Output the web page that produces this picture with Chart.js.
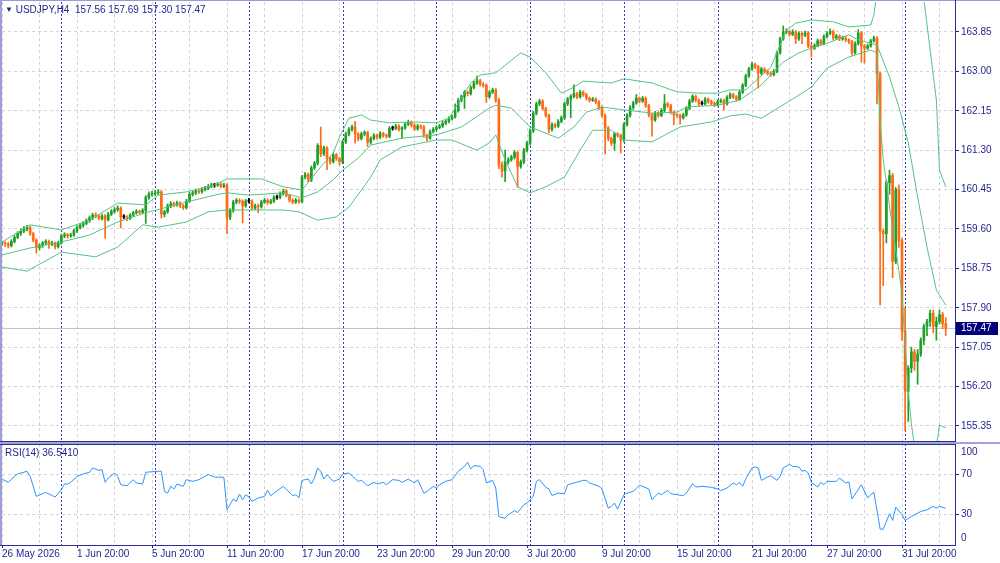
<!DOCTYPE html>
<html>
<head>
<meta charset="utf-8">
<script src="https://cdn.jsdelivr.net/npm/chart.js@4.4.1/dist/chart.umd.min.js"></script>
<style>
html,body{margin:0;padding:0;background:#fff;}
#wrap{position:relative;width:1000px;height:563px;overflow:hidden;background:#fff;font-family:'Liberation Sans',Arial,sans-serif;}
canvas{position:absolute;left:0;}
#cMain{top:0;}
#cRsi{top:441px;}
.ln{position:absolute;z-index:5;}
.txt{position:absolute;z-index:6;font-size:10px;line-height:12px;color:#1f1f8f;white-space:pre;}
</style>
</head>
<body>
<div id="wrap">
  <canvas id="cMain" width="1000" height="444"></canvas>
  <canvas id="cRsi" width="1000" height="122"></canvas>
  <div class="ln" style="left:0;top:0;width:1000px;height:1px;background:#9a9ad6;"></div>
  <div class="ln" style="left:0;top:0;width:2px;height:546px;background:#9d9dd8;"></div>
  <div class="ln" style="left:955px;top:0;width:1px;height:546px;background:#2d2d96;"></div>
  <div class="ln" style="left:0;top:441px;width:956px;height:1px;background:#2d2d96;"></div>
  <div class="ln" style="left:0;top:442px;width:1000px;height:2px;background:#a3a3dc;"></div>
  <div class="ln" style="left:0;top:444px;width:956px;height:1px;background:#2d2d96;"></div>
  <div class="ln" style="left:0;top:545px;width:956px;height:1px;background:#2d2d96;"></div>
  <div class="txt" id="hdr" style="left:5px;top:4px;"></div>
  <div class="txt" id="rsiT" style="left:5px;top:447px;"></div>
</div>
<script>
// ---------------- DATA ----------------
const symbol = 'USDJPY,H4';
const opens = [
159.29,159.30,159.28,159.24,159.33,159.42,159.50,159.55,159.60,159.63,
159.50,159.36,159.20,159.24,159.30,159.33,159.27,159.30,159.22,159.30,
159.45,159.48,159.45,159.47,159.56,159.63,159.68,159.72,159.78,159.84,
159.90,159.88,159.83,159.88,159.80,159.92,159.98,160.02,160.05,159.86,
159.86,159.83,159.90,159.95,159.98,159.96,160.00,160.28,160.35,160.36,
160.38,160.40,159.92,159.97,160.10,160.15,160.12,160.16,160.10,160.06,
160.20,160.35,160.38,160.42,160.40,160.45,160.48,160.52,160.55,160.55,
160.57,160.52,160.55,159.85,160.00,160.18,160.22,160.20,160.10,160.20,
160.20,160.05,160.10,160.08,160.18,160.22,160.17,160.20,160.28,160.28,
160.36,160.42,160.32,160.22,160.18,160.22,160.19,160.72,160.78,160.66,
160.92,161.02,161.40,161.22,161.35,161.12,161.05,161.20,161.12,161.05,
161.48,161.65,161.75,161.80,161.65,161.55,161.65,161.68,161.47,161.55,
161.62,161.58,161.66,161.62,161.60,161.77,161.77,161.82,161.75,161.78,
161.86,161.90,161.84,161.76,161.82,161.80,161.62,161.56,161.70,161.75,
161.79,161.82,161.88,161.92,161.98,162.02,162.15,162.38,162.45,162.55,
162.52,162.65,162.75,162.80,162.72,162.70,162.45,162.55,162.60,162.38,
160.98,160.85,161.05,161.10,161.15,161.25,160.95,161.05,161.30,161.45,
161.72,162.10,162.30,162.36,162.20,162.05,161.75,161.85,161.82,161.92,
162.00,162.30,162.40,162.46,162.52,162.45,162.55,162.50,162.42,162.38,
162.40,162.34,162.22,162.05,161.78,161.55,161.45,161.65,161.62,161.52,
161.85,162.05,162.22,162.32,162.42,162.36,162.42,162.26,162.06,161.95,
162.10,162.05,162.16,162.30,162.26,162.12,162.06,162.05,162.00,162.06,
162.20,162.36,162.46,162.38,162.30,162.30,162.40,162.35,162.31,162.28,
162.35,162.37,162.30,162.44,162.50,162.45,162.40,162.55,162.70,162.90,
163.05,163.15,163.10,162.96,163.05,163.00,162.96,162.93,163.00,163.40,
163.70,163.85,163.86,163.80,163.85,163.70,163.82,163.78,163.83,163.55,
163.50,163.56,163.66,163.60,163.75,163.82,163.86,163.72,163.76,163.70,
163.72,163.68,163.64,163.40,163.60,163.83,163.55,163.50,163.55,163.66,
163.72,162.95,159.55,159.50,160.60,160.75,158.90,160.45,159.35,157.40,
156.10,156.60,156.95,156.75,156.90,157.20,157.50,157.60,157.78,157.50,157.60,157.75,157.56
];
const highs = [
159.34,159.33,159.31,159.37,159.46,159.54,159.60,159.65,159.68,159.66,
159.53,159.39,159.28,159.33,159.37,159.36,159.34,159.32,159.34,159.49,
159.52,159.50,159.51,159.60,159.67,159.72,159.76,159.82,159.88,159.94,
159.95,159.91,159.92,159.91,159.96,160.02,160.06,160.10,160.08,159.91,
159.89,159.93,159.98,160.02,160.01,160.04,160.32,160.40,160.41,160.43,
160.45,160.43,160.00,160.14,160.19,160.18,160.20,160.19,160.13,160.24,
160.39,160.42,160.46,160.45,160.49,160.52,160.56,160.59,160.58,160.60,
160.60,160.59,160.58,160.04,160.22,160.26,160.25,160.23,160.24,160.26,
160.23,160.14,160.14,160.22,160.26,160.25,160.24,160.32,160.33,160.40,
160.46,160.45,160.35,160.25,160.26,160.25,160.76,160.82,160.81,160.96,
161.06,161.44,161.80,161.39,161.38,161.16,161.24,161.23,161.15,161.52,
161.69,161.79,161.84,161.92,161.68,161.69,161.72,161.71,161.59,161.66,
161.65,161.70,161.69,161.65,161.81,161.82,161.86,161.85,161.81,161.90,
161.95,161.93,161.87,161.86,161.85,161.83,161.65,161.74,161.79,161.83,
161.86,161.92,161.96,162.02,162.06,162.30,162.42,162.49,162.59,162.58,
162.69,162.79,162.90,162.83,162.76,162.73,162.59,162.64,162.63,162.42,
161.05,161.30,161.14,161.19,161.29,161.28,161.09,161.34,161.49,161.76,
162.14,162.34,162.40,162.39,162.23,162.08,161.89,161.88,161.96,162.04,
162.34,162.44,162.50,162.71,162.55,162.59,162.58,162.53,162.45,162.44,
162.43,162.37,162.25,162.08,161.81,161.58,161.69,161.68,161.65,161.89,
162.09,162.26,162.36,162.50,162.45,162.46,162.45,162.29,162.09,162.14,
162.13,162.20,162.50,162.33,162.29,162.15,162.09,162.08,162.10,162.24,
162.40,162.50,162.49,162.41,162.36,162.44,162.43,162.38,162.34,162.39,
162.41,162.40,162.48,162.54,162.53,162.48,162.59,162.74,162.94,163.09,
163.20,163.18,163.13,163.09,163.08,163.03,162.99,163.04,163.44,163.74,
163.98,163.92,163.89,163.90,163.88,163.86,163.85,163.87,163.86,163.58,
163.60,163.70,163.69,163.79,163.86,163.92,163.89,163.80,163.79,163.76,
163.75,163.71,163.67,163.64,163.90,163.86,163.58,163.59,163.69,163.76,
163.75,162.98,159.60,160.65,160.87,160.80,160.50,160.55,159.40,157.90,
156.65,157.05,157.00,157.00,157.25,157.55,157.65,157.85,157.85,157.70,157.85,157.80,157.69
];
const lows = [
159.24,159.22,159.19,159.21,159.30,159.39,159.46,159.52,159.56,159.46,
159.32,159.08,159.15,159.20,159.26,159.18,159.24,159.17,159.19,159.27,
159.41,159.40,159.42,159.44,159.52,159.60,159.64,159.69,159.74,159.80,
159.84,159.80,159.79,159.40,159.77,159.89,159.94,159.98,159.62,159.82,
159.78,159.80,159.87,159.92,159.93,159.93,159.72,160.24,160.31,160.32,
160.34,159.84,159.86,159.94,160.06,160.08,160.09,160.06,160.02,160.03,
160.17,160.31,160.34,160.36,160.37,160.42,160.45,160.49,160.50,160.52,
160.49,160.49,159.50,159.80,159.96,160.14,160.15,159.73,160.07,160.16,
160.01,160.02,159.95,160.05,160.15,160.13,160.14,160.17,160.24,160.25,
160.33,160.29,160.18,160.14,160.15,160.15,160.16,160.68,160.61,160.62,
160.88,160.98,161.16,161.18,160.88,161.00,161.02,161.08,160.98,161.01,
161.44,161.61,161.71,161.45,161.50,161.52,161.61,161.38,161.43,161.52,
161.54,161.55,161.58,161.56,161.57,161.73,161.74,161.71,161.55,161.75,
161.83,161.80,161.72,161.73,161.76,161.58,161.50,161.53,161.67,161.72,
161.76,161.79,161.85,161.89,161.95,161.99,162.12,162.34,162.20,162.47,
162.49,162.62,162.72,162.68,162.66,162.33,162.42,162.52,162.33,160.90,
160.72,160.62,161.00,161.06,161.11,160.50,160.91,161.01,161.26,161.41,
161.68,162.06,162.26,162.16,162.01,161.68,161.71,161.78,161.79,161.89,
161.96,162.26,162.00,162.43,162.41,162.42,162.46,162.38,162.34,162.35,
162.30,162.18,162.01,161.22,161.50,161.40,161.30,161.58,161.24,161.48,
161.82,162.01,162.18,162.29,162.32,162.33,162.22,162.02,161.60,161.92,
162.01,162.02,162.13,162.22,162.08,161.85,162.01,161.86,161.97,162.03,
162.17,162.33,162.34,162.26,162.27,162.27,162.31,162.27,162.24,162.25,
162.32,162.17,162.27,162.41,162.41,162.36,162.37,162.52,162.67,162.87,
163.02,163.06,162.64,162.93,162.96,162.92,162.89,162.90,162.97,163.37,
163.67,163.81,163.76,163.77,163.60,163.67,163.60,163.75,163.51,163.31,
163.47,163.53,163.56,163.57,163.72,163.79,163.68,163.69,163.66,163.67,
163.64,163.60,163.35,163.37,163.57,163.20,163.18,163.47,163.52,163.63,
162.30,157.96,158.38,159.30,160.35,158.55,158.85,159.20,157.20,155.25,
155.45,156.50,156.55,156.25,156.85,157.10,157.30,157.50,157.36,157.20,157.55,157.45,157.30
];
const closes = [
159.30,159.28,159.24,159.33,159.42,159.50,159.55,159.60,159.63,159.50,
159.36,159.20,159.24,159.30,159.33,159.27,159.30,159.22,159.30,159.45,
159.48,159.45,159.47,159.56,159.63,159.68,159.72,159.78,159.84,159.90,
159.88,159.83,159.88,159.80,159.92,159.98,160.02,160.05,159.86,159.86,
159.83,159.90,159.95,159.98,159.96,160.00,160.28,160.35,160.36,160.38,
160.40,159.92,159.97,160.10,160.15,160.12,160.16,160.10,160.06,160.20,
160.35,160.38,160.42,160.40,160.45,160.48,160.52,160.55,160.55,160.57,
160.52,160.55,159.85,160.00,160.18,160.22,160.20,160.10,160.20,160.20,
160.05,160.10,160.08,160.18,160.22,160.17,160.20,160.28,160.28,160.36,
160.42,160.32,160.22,160.18,160.22,160.19,160.72,160.78,160.66,160.92,
161.02,161.40,161.22,161.35,161.12,161.05,161.20,161.12,161.05,161.48,
161.65,161.75,161.80,161.65,161.55,161.65,161.68,161.47,161.55,161.62,
161.58,161.66,161.62,161.60,161.77,161.77,161.82,161.75,161.78,161.86,
161.90,161.84,161.76,161.82,161.80,161.62,161.56,161.70,161.75,161.79,
161.82,161.88,161.92,161.98,162.02,162.15,162.38,162.45,162.55,162.52,
162.65,162.75,162.80,162.72,162.70,162.45,162.55,162.60,162.38,160.98,
160.85,161.05,161.10,161.15,161.25,160.95,161.05,161.30,161.45,161.72,
162.10,162.30,162.36,162.20,162.05,161.75,161.85,161.82,161.92,162.00,
162.30,162.40,162.46,162.52,162.45,162.55,162.50,162.42,162.38,162.40,
162.34,162.22,162.05,161.78,161.55,161.45,161.65,161.62,161.52,161.85,
162.05,162.22,162.32,162.42,162.36,162.42,162.26,162.06,161.95,162.10,
162.05,162.16,162.30,162.26,162.12,162.06,162.05,162.00,162.06,162.20,
162.36,162.46,162.38,162.30,162.30,162.40,162.35,162.31,162.28,162.35,
162.37,162.30,162.44,162.50,162.45,162.40,162.55,162.70,162.90,163.05,
163.15,163.10,162.96,163.05,163.00,162.96,162.93,163.00,163.40,163.70,
163.85,163.86,163.80,163.85,163.70,163.82,163.78,163.83,163.55,163.50,
163.56,163.66,163.60,163.75,163.82,163.86,163.72,163.76,163.70,163.72,
163.68,163.64,163.40,163.60,163.83,163.55,163.50,163.55,163.66,163.72,
162.95,159.55,159.50,160.60,160.75,158.90,160.45,159.35,157.40,156.10,
156.60,156.95,156.75,156.90,157.20,157.50,157.60,157.78,157.50,157.60,157.75,157.56,157.47
];
// Bollinger Bands: [bar index, price]
const upperBand = [[0,159.32],[9,159.69],[19,159.58],[28,159.79],[37,160.16],[46,160.12],[50,160.33],[59,160.40],[68,160.55],[72,160.68],[83,160.68],[90,160.51],[96,160.44],[102,160.94],[106,161.24],[108,161.58],[111,161.99],[115,162.06],[118,161.95],[124,161.89],[131,161.91],[139,161.89],[143,161.99],[150,162.75],[153,162.92],[158,162.97],[166,163.40],[169,163.31],[174,162.97],[179,162.53],[183,162.66],[186,162.79],[190,162.77],[195,162.75],[199,162.84],[208,162.75],[216,162.56],[223,162.53],[229,162.53],[233,162.60],[238,162.60],[246,163.09],[251,163.89],[254,164.04],[259,164.11],[266,164.07],[271,163.96],[278,164.00],[279,164.22],[281,165.20],[285,165.70],[290,165.60],[293,165.10],[295,164.55],[299,162.38],[300,160.87],[302,160.51]];
const middleBand = [[0,159.04],[9,159.19],[19,159.32],[28,159.47],[37,159.75],[46,159.95],[59,160.18],[68,160.33],[72,160.38],[79,160.33],[90,160.38],[96,160.27],[101,160.40],[106,160.66],[109,160.87],[114,161.13],[118,161.41],[128,161.56],[139,161.63],[147,161.80],[156,162.21],[158,162.27],[163,162.21],[169,161.80],[178,161.56],[183,161.80],[187,162.12],[192,162.23],[199,162.17],[208,162.10],[216,162.12],[219,162.23],[229,162.27],[236,162.38],[243,162.71],[250,163.20],[255,163.40],[259,163.50],[265,163.63],[271,163.79],[274,163.68],[280,163.57],[284,162.88],[287,162.23],[290,161.46],[293,160.29],[296,159.21],[299,158.28],[302,157.96]];
const lowerBand = [[0,158.78],[8,158.69],[19,159.10],[30,159.00],[37,159.21],[45,159.69],[50,159.64],[59,159.75],[66,159.97],[72,160.01],[79,160.01],[90,160.01],[95,159.97],[101,159.79],[107,159.86],[111,160.07],[115,160.44],[118,160.72],[121,161.09],[128,161.37],[139,161.52],[144,161.52],[152,161.30],[156,161.46],[158,161.63],[161,161.09],[165,160.51],[169,160.38],[174,160.51],[180,160.72],[185,161.30],[189,161.73],[195,161.73],[199,161.52],[208,161.48],[217,161.80],[227,161.91],[233,162.04],[238,162.08],[243,161.99],[251,162.32],[259,162.66],[264,163.07],[271,163.31],[278,163.46],[280,163.40],[281,161.90],[282,161.10],[283,160.60],[285,159.60],[287,158.70],[288,158.20],[289,157.10],[290,156.10],[291,155.40],[292,154.90],[294,154.40],[297,154.40],[299,154.90],[300,155.37],[302,155.31]];
// RSI(14): [bar index, value]
const rsiPoints = [[0,65.3],[2,62.0],[4,68.0],[5,70.3],[8,73.0],[9,68.0],[11,48.1],[13,50.8],[14,52.1],[17,47.5],[19,54.7],[20,60.4],[21,60.4],[22,62.0],[24,68.0],[26,70.3],[28,72.0],[29,76.3],[31,73.9],[32,74.6],[33,62.0],[34,66.3],[36,71.3],[37,68.0],[38,59.7],[40,58.7],[42,64.7],[43,61.4],[45,60.4],[46,72.0],[50,73.0],[51,73.0],[52,53.1],[53,51.4],[54,58.1],[55,55.4],[56,60.4],[58,58.1],[59,64.7],[61,63.0],[63,64.7],[66,69.7],[68,67.3],[71,67.0],[72,34.9],[74,45.5],[75,43.2],[76,50.4],[77,44.8],[78,49.8],[79,47.5],[80,43.2],[82,46.5],[84,48.1],[85,54.1],[86,48.8],[87,51.4],[90,58.1],[93,48.8],[94,49.8],[95,46.5],[96,64.0],[98,65.3],[99,60.4],[100,66.3],[101,76.3],[102,73.0],[103,65.3],[104,69.6],[106,63.0],[108,65.3],[109,70.3],[111,71.3],[114,63.0],[115,64.0],[117,58.7],[119,62.0],[120,60.4],[122,62.0],[123,59.7],[125,64.7],[127,64.0],[128,62.0],[130,65.3],[132,61.4],[133,64.7],[135,51.4],[136,53.1],[138,58.1],[139,56.4],[140,59.7],[142,63.0],[144,64.7],[146,73.0],[148,77.9],[149,81.9],[150,75.3],[151,78.6],[153,77.9],[154,74.6],[155,61.4],[157,64.0],[158,56.4],[159,28.0],[161,26.6],[162,29.9],[164,33.9],[165,32.2],[167,39.9],[168,41.5],[170,48.1],[171,63.0],[172,64.7],[174,57.1],[175,55.4],[176,49.1],[178,51.4],[180,50.8],[181,59.7],[183,61.4],[186,64.0],[187,64.0],[188,61.4],[189,60.4],[191,58.1],[192,55.4],[194,36.5],[195,38.2],[196,41.5],[197,35.5],[199,49.8],[200,51.4],[202,53.1],[204,59.1],[205,58.1],[207,55.4],[208,44.8],[210,51.4],[211,49.8],[213,54.1],[214,50.8],[216,49.8],[218,48.8],[219,51.4],[221,60.7],[222,57.4],[224,58.1],[227,57.1],[229,55.4],[230,53.8],[232,56.4],[234,61.4],[235,59.7],[236,62.0],[237,58.1],[238,65.3],[240,76.3],[241,77.3],[242,76.3],[243,64.0],[245,67.3],[246,68.6],[248,64.0],[249,68.0],[250,76.3],[252,79.9],[253,77.9],[255,77.3],[256,73.0],[257,73.9],[258,71.3],[259,62.0],[261,57.4],[262,62.0],[263,59.7],[264,63.0],[267,63.0],[268,66.3],[270,61.4],[271,62.4],[272,45.5],[275,59.7],[277,46.5],[278,49.8],[279,52.1],[281,15.7],[282,15.7],[284,30.9],[285,24.3],[286,37.5],[288,29.9],[289,24.3],[291,28.3],[292,29.9],[294,33.2],[296,34.9],[298,38.2],[299,36.5],[300,38.2],[302,36.5]];
const rsiValue = '36.5410';
// Axes
const priceTicks = [155.35,156.20,157.05,157.90,158.75,159.60,160.45,161.30,162.15,163.00,163.85];
const rsiTicks = [0,30,70,100];
const rsiLevels = [30,70];
const gridBars = [0,12,24,36,48,60,72,84,96,108,120,132,144,156,168,180,192,204,216,228,240,252,264,276,288,300];
const labelBars = [0,24,48,72,96,120,144,168,192,216,240,264,288];
const xLabels = ['26 May 2026','1 Jun 20:00','5 Jun 20:00','11 Jun 20:00','17 Jun 20:00','23 Jun 20:00','29 Jun 20:00','3 Jul 20:00','9 Jul 20:00','15 Jul 20:00','21 Jul 20:00','27 Jul 20:00','31 Jul 20:00'];
const sepBars = [19,49,79,109,139,169,199,229,259,289];

// ---------------- STYLE ----------------
const NAVY = '#1f1f8f';
const GRID = '#d3d3d3';
const BULL = '#1f9f27';
const BEAR = '#ff6a13';
const DOJI = '#000000';
const BAND = '#52c484';
const RSI_C = '#2b93ff';
const SEP = '#3b3bbb';
const FONT = "'Liberation Sans', Arial, sans-serif";
const X_MIN = 0, X_MAX = 304.96;
const Y_MIN = 155.026, Y_MAX = 164.497;

Chart.defaults.font.family = FONT;
Chart.defaults.font.size = 10;
Chart.defaults.color = NAVY;

const n = closes.length - 1;
document.getElementById('hdr').innerHTML =
  '<span style="font-size:8px;position:relative;top:-1px;">\u25BC</span> ' + symbol + '  ' +
  [opens[n], highs[n], lows[n], closes[n]].map(v => v.toFixed(2)).join(' ');
document.getElementById('rsiT').textContent = 'RSI(14) ' + rsiValue;

const toPts = arr => arr.map(([i, v]) => ({x: i, y: v}));
const candleColors = closes.map((c, i) => c > opens[i] ? BULL : (c < opens[i] ? BEAR : DOJI));
const bodyData = closes.map((c, i) => ({x: i, y: [opens[i], c]}));
const wickData = closes.map((c, i) => ({x: i, y: [lows[i], highs[i]]}));
const lastPrice = closes[n];

function drawSeparators(chart) {
  const {ctx, chartArea: a, scales: {x}} = chart;
  ctx.save();
  ctx.strokeStyle = SEP;
  ctx.lineWidth = 1;
  ctx.setLineDash([2, 2]);
  sepBars.forEach(b => {
    const px = Math.round(x.getPixelForValue(b)) + 0.5;
    ctx.beginPath();
    ctx.moveTo(px, a.top);
    ctx.lineTo(px, a.bottom);
    ctx.stroke();
  });
  ctx.restore();
}

const mainDecor = {
  id: 'mainDecor',
  beforeDatasetsDraw(chart) {
    const {ctx, chartArea: a, scales: {y}} = chart;
    ctx.save();
    const py = Math.round(y.getPixelForValue(lastPrice)) + 0.5;
    ctx.strokeStyle = '#c4c4c4';
    ctx.lineWidth = 1;
    ctx.beginPath();
    ctx.moveTo(a.left, py);
    ctx.lineTo(a.right, py);
    ctx.stroke();
    ctx.restore();
    drawSeparators(chart);
  },
  afterDraw(chart) {
    const {ctx, chartArea: a, scales: {y}} = chart;
    const py = y.getPixelForValue(lastPrice);
    ctx.save();
    ctx.fillStyle = '#00007a';
    ctx.fillRect(a.right + 1, Math.round(py) - 6, 42, 13);
    ctx.fillStyle = '#ffffff';
    ctx.font = '10px ' + FONT;
    ctx.textBaseline = 'middle';
    ctx.textAlign = 'left';
    ctx.fillText(lastPrice.toFixed(2), a.right + 6, Math.round(py) + 0.5);
    ctx.restore();
  }
};

const rsiDecor = {
  id: 'rsiDecor',
  beforeDatasetsDraw(chart) { drawSeparators(chart); },
  afterDraw(chart) {
    const {ctx, chartArea: a, scales: {y}} = chart;
    ctx.save();
    ctx.fillStyle = NAVY;
    ctx.font = '10px ' + FONT;
    ctx.textBaseline = 'middle';
    ctx.textAlign = 'left';
    ctx.fillText(String(rsiTicks[3]), a.right + 6, y.getPixelForValue(rsiTicks[3]) + 8);
    ctx.fillText(String(rsiTicks[0]), a.right + 6, y.getPixelForValue(rsiTicks[0]) - 7);
    ctx.restore();
  }
};

const lineDs = (data, color) => ({
  type: 'line', data: toPts(data), borderColor: color, borderWidth: 1,
  pointRadius: 0, tension: 0, fill: false, order: 0
});

new Chart(document.getElementById('cMain'), {
  type: 'bar',
  data: {
    datasets: [
      lineDs(upperBand, BAND),
      lineDs(middleBand, BAND),
      lineDs(lowerBand, BAND),
      {type: 'bar', data: bodyData, backgroundColor: candleColors, borderWidth: 0,
       barThickness: 2, grouped: false, minBarLength: 1, order: 1},
      {type: 'bar', data: wickData, backgroundColor: candleColors, borderWidth: 0,
       barThickness: 1, grouped: false, order: 2}
    ]
  },
  options: {
    responsive: false, animation: false, events: [],
    layout: {padding: {left: 2, top: 2, right: 0, bottom: 3}},
    plugins: {legend: {display: false}, tooltip: {enabled: false}},
    scales: {
      x: {
        type: 'linear', min: X_MIN, max: X_MAX, offset: false,
        ticks: {display: false},
        grid: {color: GRID, drawTicks: false, offset: false},
        border: {display: false, dash: [3, 3]},
        afterBuildTicks: s => { s.ticks = gridBars.map(v => ({value: v})); },
        afterFit: s => { s.height = 0; s.paddingLeft = 0; s.paddingRight = 0; }
      },
      y: {
        type: 'linear', position: 'right', min: Y_MIN, max: Y_MAX,
        ticks: {color: NAVY, padding: 2, font: {size: 10, family: FONT}, callback: v => Number(v).toFixed(2)},
        grid: {color: GRID, drawTicks: true, tickLength: 4, tickColor: NAVY},
        border: {display: false, dash: [3, 3]},
        afterBuildTicks: s => { s.ticks = priceTicks.map(v => ({value: v})); },
        afterFit: s => { s.width = 45; s.paddingTop = 0; s.paddingBottom = 0; }
      }
    }
  },
  plugins: [mainDecor]
});

new Chart(document.getElementById('cRsi'), {
  type: 'line',
  data: {
    datasets: [{data: toPts(rsiPoints), borderColor: RSI_C, borderWidth: 1, pointRadius: 0, tension: 0, fill: false}]
  },
  options: {
    responsive: false, animation: false, events: [],
    layout: {padding: {left: 2, top: 3, right: 0, bottom: 0}},
    plugins: {legend: {display: false}, tooltip: {enabled: false}},
    scales: {
      x: {
        type: 'linear', min: X_MIN, max: X_MAX, offset: false,
        ticks: {
          color: NAVY, padding: 0, autoSkip: false, maxRotation: 0, minRotation: 0, align: 'start',
          font: {size: 10, family: FONT},
          callback: v => { const k = labelBars.indexOf(v); return k >= 0 ? xLabels[k] : ''; }
        },
        grid: {
          color: GRID, drawTicks: true, tickLength: 3, offset: false,
          tickColor: c => (c.tick && labelBars.includes(c.tick.value)) ? NAVY : 'rgba(0,0,0,0)'
        },
        border: {display: false, dash: [3, 3]},
        afterBuildTicks: s => { s.ticks = gridBars.map(v => ({value: v})); },
        afterFit: s => { s.height = 18; s.paddingLeft = 0; s.paddingRight = 0; }
      },
      y: {
        type: 'linear', position: 'right', min: 0, max: 100,
        ticks: {color: NAVY, padding: 2, font: {size: 10, family: FONT},
                callback: v => rsiLevels.includes(v) ? String(v) : ''},
        grid: {
          color: c => (c.tick && rsiLevels.includes(c.tick.value)) ? GRID : 'rgba(0,0,0,0)',
          drawTicks: true, tickLength: 4,
          tickColor: c => (c.tick && rsiLevels.includes(c.tick.value)) ? NAVY : 'rgba(0,0,0,0)'
        },
        border: {display: false, dash: [3, 3]},
        afterBuildTicks: s => { s.ticks = rsiTicks.map(v => ({value: v})); },
        afterFit: s => { s.width = 45; s.paddingTop = 0; s.paddingBottom = 0; }
      }
    }
  },
  plugins: [rsiDecor]
});
</script>
</body>
</html>
